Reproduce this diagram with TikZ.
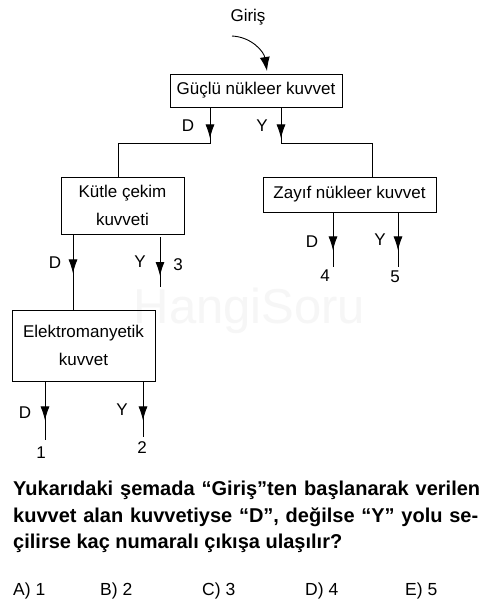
\documentclass[tikz,border=0pt]{standalone}
\usepackage{fontspec}
\setmainfont{Liberation Sans}
\usetikzlibrary{arrows.meta,decorations.markings}
\begin{document}
\begin{tikzpicture}[x=1pt,y=-1pt,
  box/.style={draw,line width=0.9pt,inner sep=0pt,align=center,font=\fontsize{17}{28.5}\selectfont},
  lbl/.style={inner sep=0pt,font=\fontsize{17}{19}\selectfont},
  conn/.style={line width=0.9pt},
  tip/.style={postaction={decorate},decoration={markings,mark=at position #1 with {\arrow{Latex[length=14pt,width=9pt]}}}},
  qtext/.style={inner sep=0pt,anchor=base west,font=\fontsize{20}{22}\selectfont\bfseries},
  ans/.style={inner sep=0pt,anchor=base west,font=\fontsize{17.5}{20}\selectfont}]
\useasboundingbox (0,0) rectangle (494,611);
\fill[white] (0,0) rectangle (494,611);
% watermark
\node[inner sep=0pt,anchor=base,text=gray!7,font=\fontsize{49}{52}\selectfont] (wm) at (249.5,323) {HangiSoru};
% boxes
\node[box,minimum width=172pt,minimum height=33pt] (g) at (256,90.5) {Güçlü nükleer kuvvet};
\node[box,minimum width=123pt,minimum height=57pt] (k) at (122.5,205.5) {Kütle çekim\\kuvveti};
\node[box,minimum width=173pt,minimum height=35pt] (z) at (349.5,194.5) {Zayıf nükleer kuvvet};
\node[box,minimum width=143pt,minimum height=71pt] (e) at (83.5,345.5) {Elektromanyetik\\kuvvet};
% entry
\node[lbl] (giris) at (248,17) {Giriş};
\coordinate (gs) at (232,36);
\coordinate (gt) at (267,71);
\draw[conn,-{Latex[length=14pt,width=10pt]}] (gs) .. controls (252,37) and (264,52) .. (gt);
% turn points
\coordinate (c1) at (210,143);
\coordinate (c2) at (118,143);
\coordinate (c3) at (281,143);
\coordinate (c4) at (372,143);
\draw[conn,tip=31pt] (g.south -| c1) -- (c1) -- (c2) -- (k.north -| c2);
\draw[conn,tip=31pt] (g.south -| c3) -- (c3) -- (c4) -- (z.north -| c4);
\node[lbl] (gD) at (188,126) {D};
\node[lbl] (gY) at (262,126) {Y};
% Kutle exits
\coordinate (kd) at (73,300);
\draw[conn,tip=39pt] (k.south -| kd) -- (e.north -| kd);
\coordinate (ky1) at (160,237);
\coordinate (ky2) at (160,287);
\draw[conn,tip=39pt] (ky1) -- (ky2);
\node[lbl] (kD) at (55,263) {D};
\node[lbl] (kY) at (140,262) {Y};
\node[lbl] (o3) at (178,265) {3};
% Zayif exits
\coordinate (zd) at (333,267);
\coordinate (zy) at (398,267);
\draw[conn,tip=38pt] (z.south -| zd) -- (zd);
\draw[conn,tip=38pt] (z.south -| zy) -- (zy);
\node[lbl] (zD) at (312,242) {D};
\node[lbl] (zY) at (380,240) {Y};
\node[lbl] (o4) at (325,276) {4};
\node[lbl] (o5) at (395,277) {5};
% Elektro exits
\coordinate (ed) at (45,440);
\coordinate (ey) at (143,437);
\draw[conn,tip=39pt] (e.south -| ed) -- (ed);
\draw[conn,tip=39pt] (e.south -| ey) -- (ey);
\node[lbl] (eD) at (25,413) {D};
\node[lbl] (eY) at (122,410) {Y};
\node[lbl] (o1) at (41,453) {1};
\node[lbl] (o2) at (142,448) {2};
% question
\node[qtext] (q1) at (13,495) {\makebox[467pt][s]{Yukarıdaki şemada “Giriş”ten başlanarak verilen}};
\node[qtext] (q2) at (13,522) {\makebox[465pt][s]{kuvvet alan kuvvetiyse “D”, değilse “Y” yolu se-}};
\node[qtext] (q3) at (13,548) {çilirse kaç numaralı çıkışa ulaşılır?};
\node[ans] (a1) at (13,595) {A) 1};
\node[ans] (a2) at (100,595) {B) 2};
\node[ans] (a3) at (202,595) {C) 3};
\node[ans] (a4) at (305,595) {D) 4};
\node[ans] (a5) at (405,595) {E) 5};
\end{tikzpicture}
\end{document}
